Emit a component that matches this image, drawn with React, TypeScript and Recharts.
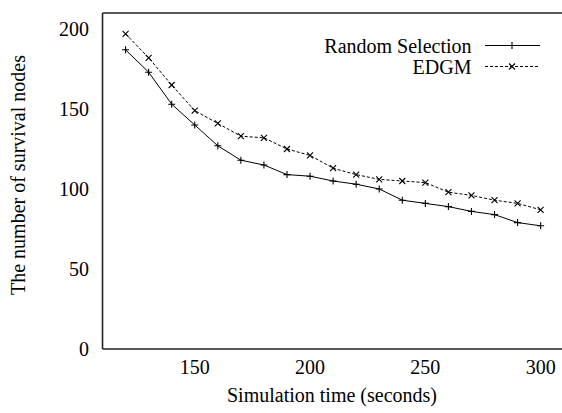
import React from 'react';
import { LineChart, Line, XAxis, YAxis } from 'recharts';

const times = [120, 130, 140, 150, 160, 170, 180, 190, 200, 210, 220, 230, 240, 250, 260, 270, 280, 290, 300];
const randomSelection = [187, 173, 153, 140, 127, 118, 115, 109, 108, 105, 103, 100, 93, 91, 89, 86, 84, 79, 77];
const edgm = [197, 182, 165, 149, 141, 133, 132, 125, 121, 113, 109, 106, 105, 104, 98, 96, 93, 91, 87];
const xTicks = [150, 200, 250, 300];
const yTicks = [0, 50, 100, 150, 200];
const seriesNames = ['Random Selection', 'EDGM'];

const data = times.map((t, i) => ({ t, random: randomSelection[i], edgm: edgm[i] }));

const FONT = '"Liberation Serif", "Times New Roman", serif';
const AXIS = '#222';
const X_DOMAIN: [number, number] = [110, 310];
const Y_DOMAIN: [number, number] = [0, 210];
const THIN = 0.01;

const PlusDot = (props: any) => {
  const { cx, cy, index } = props;
  if (cx == null || cy == null) return <g key={`p${index}`} />;
  return (
    <path
      key={`p${index}`}
      d={`M${cx - 3.5},${cy}H${cx + 3.5}M${cx},${cy - 3.5}V${cy + 3.5}`}
      stroke="#000"
      strokeWidth={1.1}
      fill="none"
    />
  );
};

const CrossDot = (props: any) => {
  const { cx, cy, index } = props;
  if (cx == null || cy == null) return <g key={`x${index}`} />;
  return (
    <path
      key={`x${index}`}
      d={`M${cx - 3},${cy - 3}L${cx + 3},${cy + 3}M${cx - 3},${cy + 3}L${cx + 3},${cy - 3}`}
      stroke="#000"
      strokeWidth={1.1}
      fill="none"
    />
  );
};

const LegendOverlay = () => (
  <svg
    width={562}
    height={90}
    style={{ position: 'absolute', left: 0, top: 0, pointerEvents: 'none' }}
  >
    <text x={471.5} y={45.5} dy="0.35em" textAnchor="end" fontFamily={FONT} fontSize={20} fill="#000">
      {seriesNames[0]}
    </text>
    <line x1={485} x2={540} y1={45.5} y2={45.5} stroke="#000" strokeWidth={1} />
    <path d="M508.5,45.5H515.5M512,42V49" stroke="#000" strokeWidth={1.1} />
    <text x={471.5} y={66.5} dy="0.35em" textAnchor="end" fontFamily={FONT} fontSize={20} fill="#000">
      {seriesNames[1]}
    </text>
    <line x1={485} x2={540} y1={66.5} y2={66.5} stroke="#000" strokeWidth={1} strokeDasharray="3 2" />
    <path d="M509,63.5L515,69.5M509,69.5L515,63.5" stroke="#000" strokeWidth={1.1} />
  </svg>
);

const tickStyle = { fontFamily: FONT, fontSize: 20, fill: '#000' };

export default function App() {
  return (
    <div
      style={{
        position: 'absolute',
        left: 0,
        top: 0,
        width: 562,
        height: 413,
        overflow: 'hidden',
        background: '#fff',
      }}
    >
      <LineChart
        width={570}
        height={413}
        data={data}
        margin={{ top: 13, right: 6.3, bottom: 64, left: 102.5 }}
      >
        <XAxis
          xAxisId="b"
          dataKey="t"
          type="number"
          domain={X_DOMAIN}
          allowDataOverflow
          ticks={xTicks}
          interval={0}
          mirror
          tick={false}
          tickSize={5}
          height={THIN}
          axisLine={{ stroke: AXIS, strokeWidth: 1.6 }}
          tickLine={{ stroke: AXIS, strokeWidth: 1.2 }}
        />
        <XAxis
          xAxisId="bl"
          dataKey="t"
          type="number"
          domain={X_DOMAIN}
          allowDataOverflow
          ticks={xTicks}
          interval={0}
          tick={tickStyle}
          tickSize={0}
          tickMargin={11}
          height={THIN}
          axisLine={false}
          tickLine={false}
        />
        <XAxis
          xAxisId="t"
          dataKey="t"
          orientation="top"
          type="number"
          domain={X_DOMAIN}
          allowDataOverflow
          ticks={xTicks}
          interval={0}
          mirror
          tick={false}
          tickSize={5}
          height={THIN}
          axisLine={{ stroke: AXIS, strokeWidth: 1.6 }}
          tickLine={{ stroke: AXIS, strokeWidth: 1.2 }}
        />
        <YAxis
          yAxisId="l"
          type="number"
          domain={Y_DOMAIN}
          allowDataOverflow
          ticks={yTicks}
          interval={0}
          mirror
          tick={false}
          tickSize={6}
          width={THIN}
          axisLine={{ stroke: AXIS, strokeWidth: 1.6 }}
          tickLine={{ stroke: AXIS, strokeWidth: 1.2 }}
        />
        <YAxis
          yAxisId="ll"
          type="number"
          domain={Y_DOMAIN}
          allowDataOverflow
          ticks={yTicks}
          interval={0}
          tick={tickStyle}
          tickSize={0}
          tickMargin={13.5}
          width={THIN}
          axisLine={false}
          tickLine={false}
        />
        <YAxis
          yAxisId="r"
          orientation="right"
          type="number"
          domain={Y_DOMAIN}
          allowDataOverflow
          ticks={yTicks}
          interval={0}
          mirror
          tick={false}
          tickSize={6}
          width={THIN}
          axisLine={{ stroke: AXIS, strokeWidth: 1.6 }}
          tickLine={{ stroke: AXIS, strokeWidth: 1.2 }}
        />
        <Line
          xAxisId="b"
          yAxisId="l"
          dataKey="random"
          name={seriesNames[0]}
          stroke="#000"
          strokeWidth={1}
          dot={PlusDot}
          activeDot={false}
          isAnimationActive={false}
        />
        <Line
          xAxisId="b"
          yAxisId="l"
          dataKey="edgm"
          name={seriesNames[1]}
          stroke="#000"
          strokeWidth={1}
          strokeDasharray="3 2"
          dot={CrossDot}
          activeDot={false}
          isAnimationActive={false}
        />
      </LineChart>
      <LegendOverlay />
      <div
        style={{
          position: 'absolute',
          left: 132,
          width: 400,
          top: 384,
          textAlign: 'center',
          fontFamily: FONT,
          fontSize: 20,
          lineHeight: '22px',
          color: '#000',
        }}
      >
        Simulation time (seconds)
      </div>
      <div
        style={{
          position: 'absolute',
          left: 18,
          top: 175,
          transform: 'translate(-50%, -50%) rotate(-90deg)',
          whiteSpace: 'nowrap',
          fontFamily: FONT,
          fontSize: 20,
          lineHeight: '22px',
          color: '#000',
        }}
      >
        The number of survival nodes
      </div>
    </div>
  );
}
